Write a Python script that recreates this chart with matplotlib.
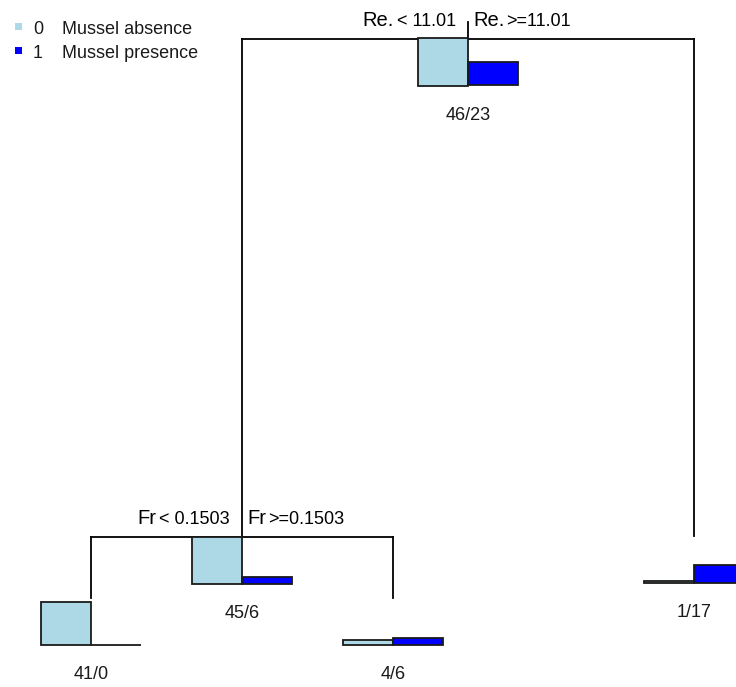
import matplotlib.pyplot as plt
from matplotlib.patches import Rectangle

plt.rcParams['font.family'] = ['Liberation Sans', 'DejaVu Sans']

# class counts at each node of the tree (0 = absence, 1 = presence)
node_ids = ['root', 'fr', 'leaf_a', 'leaf_b', 'leaf_c']
absence = [46, 45, 41, 4, 1]
presence = [23, 6, 0, 6, 17]

# splits: node, variable, left condition, right condition, left child, right child
split_nodes = ['root', 'fr']
split_vars = ['Re.', 'Fr']
split_left = ['< 11.01', '< 0.1503']
split_right = ['>=11.01', '>=0.1503']
split_children = [('fr', 'leaf_c'), ('leaf_a', 'leaf_b')]

class_labels = ['0', '1']
class_names = ['Mussel absence', 'Mussel presence']
class_colors = ['#add8e6', '#0000ff']

# drawing layout (pixel space)
node_x = {'root': 468, 'fr': 242, 'leaf_a': 91, 'leaf_b': 393, 'leaf_c': 694}
node_y = {'root': 39, 'fr': 537, 'leaf_a': 598, 'leaf_b': 598, 'leaf_c': 536}
bar_w = 50
bar_drop = 46.5
px_per_count = 1.03

fig = plt.figure(figsize=(7.36, 6.87), dpi=100)
ax = fig.add_axes([0, 0, 1, 1])
ax.set_xlim(0, 736)
ax.set_ylim(687, 0)
ax.axis('off')

lw = 1.3
ax.plot([node_x['root'], node_x['root']], [node_y['root'] - 17, node_y['root']],
        color='black', lw=lw)

for node, var, lt, rt, (lc, rc) in zip(split_nodes, split_vars, split_left,
                                      split_right, split_children):
    x, y = node_x[node], node_y[node]
    ax.plot([node_x[lc], node_x[rc]], [y, y], color='black', lw=lw)
    for c in (lc, rc):
        ax.plot([node_x[c], node_x[c]], [y, node_y[c]], color='black', lw=lw)
    ty = y - 18
    t = ax.text(x - 12, ty, lt, ha='right', va='center', fontsize=13)
    fig.canvas.draw()
    bb = t.get_window_extent().transformed(ax.transData.inverted())
    ax.text(bb.x0 - 3, ty - 1, var, ha='right', va='center', fontsize=14.5)
    v = ax.text(x + 5, ty - 1, var, ha='left', va='center', fontsize=14.5)
    fig.canvas.draw()
    bb = v.get_window_extent().transformed(ax.transData.inverted())
    ax.text(bb.x1 + 2, ty, rt, ha='left', va='center', fontsize=13)

for i, node in enumerate(node_ids):
    x = node_x[node]
    bottom = node_y[node] + bar_drop
    counts = [absence[i], presence[i]]
    for k, n in enumerate(counts):
        h = n * px_per_count
        x0 = x - bar_w if k == 0 else x
        ax.add_patch(Rectangle((x0, bottom - h), bar_w, h, facecolor=class_colors[k],
                               edgecolor='#1a1a1a', lw=1.3, zorder=3))
    ax.text(x, bottom + 30, f'{absence[i]}/{presence[i]}', ha='center', va='center',
            fontsize=13, color='#1a1a1a')

# legend in the top left corner
for k in range(2):
    yy = 26 + 24 * k
    ax.add_patch(Rectangle((15, yy - 3.5), 7, 7, facecolor=class_colors[k],
                           edgecolor='none'))
    ax.text(33, yy + 4, class_labels[k], ha='left', va='center', fontsize=13,
            color='#1a1a1a')
    ax.text(62, yy + 4, class_names[k], ha='left', va='center', fontsize=13,
            color='#1a1a1a')

fig.savefig('out.png', dpi=100)
